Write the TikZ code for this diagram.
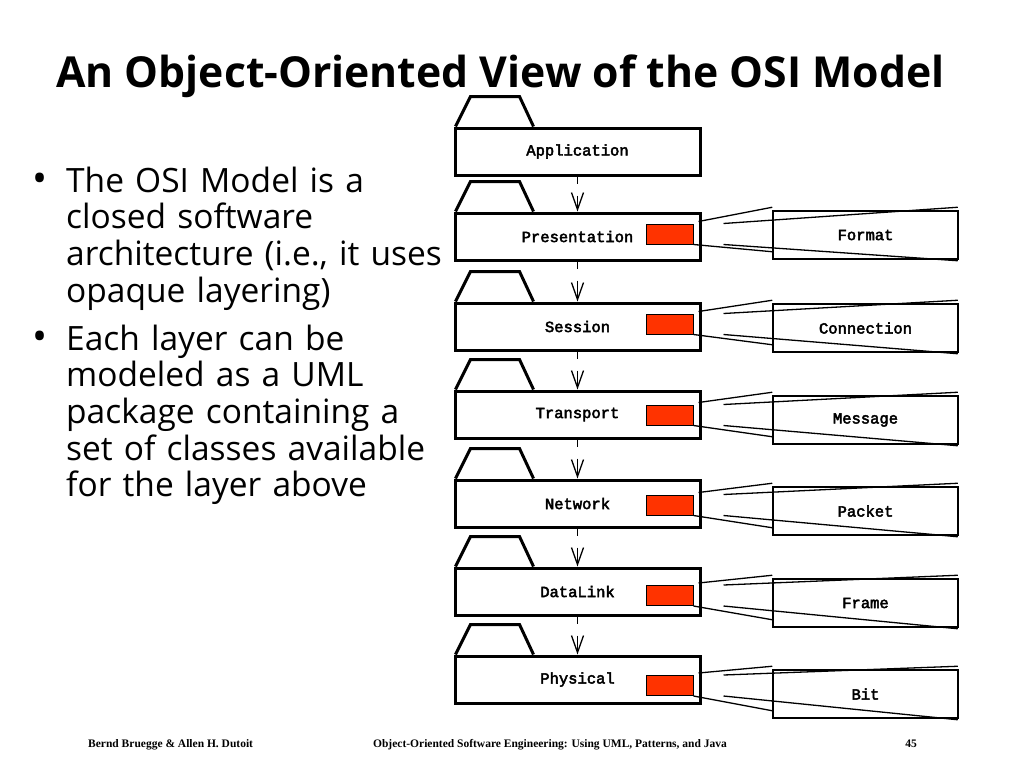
\documentclass[tikz,border=0pt]{standalone}
\usepackage{fontspec}
\setmainfont{Open Sans}
\newfontfamily\labelfont{Liberation Mono}[AutoFakeBold=3]
\newfontfamily\footfont{Liberation Serif}
\usetikzlibrary{arrows.meta}
\definecolor{portred}{HTML}{FF3300}

\begin{document}
\begin{tikzpicture}[x=1pt,y=-1pt,
    every node/.style={inner sep=0pt},
    pkg/.style={draw,line width=3pt,minimum width=245pt,minimum height=47pt,
        font=\labelfont\bfseries\fontsize{15.5}{16}\selectfont},
    cls/.style={draw,line width=1.5pt,minimum width=185pt,minimum height=48pt,
        font=\labelfont\bfseries\fontsize{15.5}{16}\selectfont},
    port/.style={draw,fill=portred,line width=1pt,minimum width=47pt,minimum height=20pt},
    zoomline/.style={line width=1.3pt},
    dep/.style={line width=1.3pt,dash pattern=on 7pt off 12pt on 40pt,
        -{Straight Barb[length=17pt,width=12pt]}},
    bullet/.style={font=\fontsize{33.5}{36.7}\selectfont,text width=400pt,align=left,anchor=base west},
    dot/.style={font=\fontsize{40}{40}\selectfont,anchor=base west},
    foot/.style={font=\footfont\bfseries\fontsize{11.5}{12}\selectfont,anchor=base}]
    \useasboundingbox[fill=white] (0,0) rectangle (1024,768);

    % title
    \node[anchor=base west,font=\bfseries\fontsize{42.7}{50}\selectfont] (title) at (56,87)
        {An Object-Oriented View of the OSI Model};

    % bullets
    \node[dot] (b1) at (32,192) {•};
    \node[bullet] (t1) at (66,192) {The OSI Model is a\\closed software\\architecture (i.e., it uses\\opaque layering)};
    \node[dot] (b2) at (32,350) {•};
    \node[bullet] (t2) at (66,350) {Each layer can be\\modeled as a UML\\package containing a\\set of classes available\\for the layer above};

    % packages
    \foreach \n/\t/\y in {app/Application/151.5, pre/Presentation/236.5, ses/Session/326.5,
        tra/Transport/414.5, net/Network/503.5, dat/DataLink/591.5, phy/Physical/679.5} {
        \node[pkg] (\n) at (577.5,\y) {\t};
        \draw[line width=3pt] ([xshift=2pt]\n.north west) -- ++(15,-30) -- ++(49,0) -- ++(14,30);
    }

    % dependencies
    \draw[dep] (app.south) -- (pre.north);
    \draw[dep] (pre.south) -- (ses.north);
    \draw[dep] (ses.south) -- (tra.north);
    \draw[dep] (tra.south) -- (net.north);
    \draw[dep] (net.south) -- (dat.north);
    \draw[dep] (dat.south) -- (phy.north);

    % classes
    \foreach \n/\c/\ry/\cy in {pre/Format/234/235, ses/Connection/324/328, tra/Message/415/420,
        net/Packet/505/511, dat/Frame/595.5/603, phy/Bit/685.5/694} {
        \node[port] (\n p) at (669.5,\ry) {};
        \node[cls] (\n c) at (865.5,\cy) {\c};
        \draw[zoomline] ([shift={(5,-2)}]\n p.north east) -- ([shift={(0,-3)}]\n c.north west);
        \draw[zoomline] ([shift={(30,0)}]\n p.north east) -- ([shift={(-1,-3)}]\n c.north east);
        \draw[zoomline] (\n p.south east) -- ([shift={(0,-8)}]\n c.south west);
        \draw[zoomline] ([shift={(30,0)}]\n p.south east) -- ([shift={(-1,1)}]\n c.south east);
    }

    % footer
    \node[foot,anchor=base west] (auth) at (88,747) {Bernd Bruegge \& Allen H. Dutoit};
    \node[foot] (book) at (550,747) {Object-Oriented Software Engineering: Using UML, Patterns, and Java};
    \node[foot,anchor=base east] (page) at (917,747) {45};
\end{tikzpicture}
\end{document}
